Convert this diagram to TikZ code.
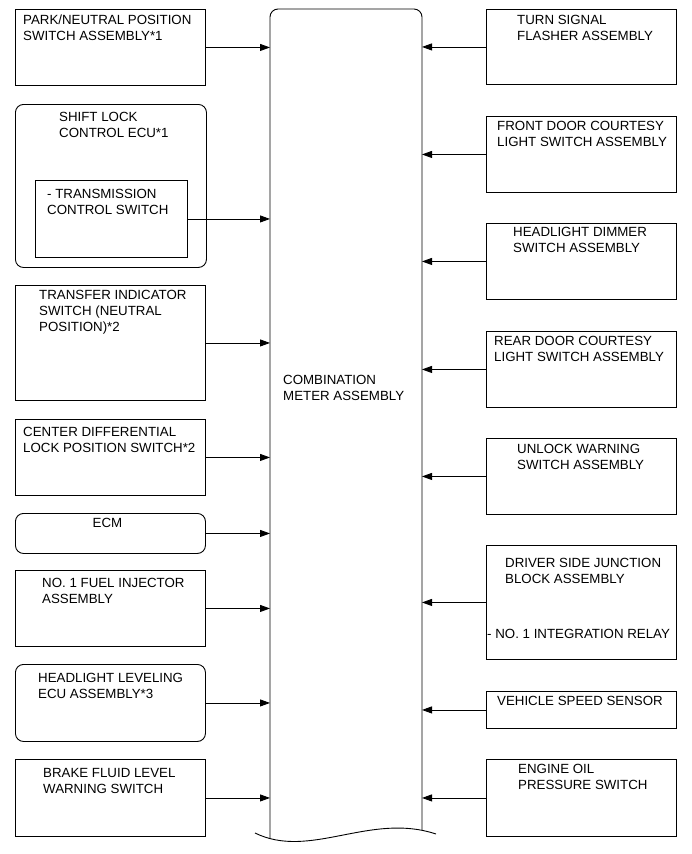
\documentclass[tikz,border=0pt]{standalone}
\usepackage{fontspec}
\setmainfont{Liberation Sans}
\usetikzlibrary{arrows.meta}
\newcommand\myst{\rule{0pt}{11pt}}
\begin{document}
\begin{tikzpicture}[x=1pt,y=-1pt,
  box/.style={draw,line width=0.9pt,inner sep=0pt,anchor=north west,minimum width=190pt},
  rbox/.style={box,rounded corners=8pt},
  lbl/.style={inner sep=0pt,anchor=north west,align=left,font=\fontsize{13.3}{16}\selectfont},
  conn/.style={line width=0.9pt,-{Triangle[length=10pt,width=7pt]}}]
\useasboundingbox (0,0) rectangle (691,854);
% main meter
\coordinate (ML) at (270,0);
\coordinate (MR) at (422,0);
\draw[line width=0.9pt,rounded corners=8pt] (270,838) -- (270,9) -- (422,9) -- (422,830);
\draw[line width=0.9pt] (255,833) .. controls (310,860) and (370,812) .. (436,834);
\node[lbl] (meter) at (283,373) {\myst COMBINATION\\METER ASSEMBLY};
% left boxes
\node[box,minimum height=76pt] (b1) at (15,9) {};
\node[rbox,minimum width=191pt,minimum height=163pt] (b2) at (15,104) {};
\node[box,minimum width=152pt,minimum height=77pt] (b2i) at (35,180) {};
\node[box,minimum height=115pt] (b3) at (15,285) {};
\node[box,minimum height=76pt] (b4) at (15,419) {};
\node[rbox,minimum height=40pt] (b5) at (15,513) {};
\node[box,minimum height=76pt] (b6) at (15,570) {};
\node[rbox,minimum height=77pt] (b7) at (15,664) {};
\node[box,minimum height=77pt] (b8) at (15,759) {};
\node[lbl] (t1) at (23,13) {\myst PARK/NEUTRAL POSITION\\SWITCH ASSEMBLY*1};
\node[lbl] (t2) at (59,110) {\myst SHIFT LOCK\\CONTROL ECU*1};
\node[lbl] (t2i) at (47,187) {\myst - TRANSMISSION\\CONTROL SWITCH};
\node[lbl] (t3) at (39,288) {\myst TRANSFER INDICATOR\\SWITCH (NEUTRAL\\POSITION)*2};
\node[lbl] (t4) at (23,425) {\myst CENTER DIFFERENTIAL\\LOCK POSITION SWITCH*2};
\node[lbl,anchor=north] (t5) at (107.5,516) {\myst ECM};
\node[lbl] (t6) at (42,576) {\myst NO. 1 FUEL INJECTOR\\ASSEMBLY};
\node[lbl] (t7) at (38,671) {\myst HEADLIGHT LEVELING\\ECU ASSEMBLY*3};
\node[lbl] (t8) at (43,766) {\myst BRAKE FLUID LEVEL\\WARNING SWITCH};
% right boxes
\node[box,minimum height=75pt] (r1) at (486,9) {};
\node[box,minimum height=76pt] (r2) at (486,116) {};
\node[box,minimum height=76pt] (r3) at (486,223) {};
\node[box,minimum height=76pt] (r4) at (486,331) {};
\node[box,minimum height=76pt] (r5) at (486,438) {};
\node[box,minimum height=114pt] (r6) at (486,545) {};
\node[box,minimum height=37pt] (r7) at (486,691) {};
\node[box,minimum height=77pt] (r8) at (486,759) {};
\node[lbl] (s1) at (517,13) {\myst TURN SIGNAL\\FLASHER ASSEMBLY};
\node[lbl] (s2) at (497,119) {\myst FRONT DOOR COURTESY\\LIGHT SWITCH ASSEMBLY};
\node[lbl] (s3) at (513,225) {\myst HEADLIGHT DIMMER\\SWITCH ASSEMBLY};
\node[lbl] (s4) at (494,334) {\myst REAR DOOR COURTESY\\LIGHT SWITCH ASSEMBLY};
\node[lbl] (s5) at (517,442) {\myst UNLOCK WARNING\\SWITCH ASSEMBLY};
\node[lbl] (s6) at (505,556) {\myst DRIVER SIDE JUNCTION\\BLOCK ASSEMBLY};
\node[lbl] (s6b) at (487,627) {\myst - NO. 1 INTEGRATION RELAY};
\node[lbl] (s7) at (497,694) {\myst VEHICLE SPEED SENSOR};
\node[lbl] (s8) at (518,762) {\myst ENGINE OIL\\PRESSURE SWITCH};
% connectors
\foreach \n in {b1,b2i,b3,b4,b5,b6,b7,b8}
  \draw[conn] (\n.east) -- (\n.east -| ML);
\foreach \n in {r1,r2,r3,r4,r5,r6,r7,r8}
  \draw[conn] (\n.west) -- (\n.west -| MR);
\end{tikzpicture}
\end{document}
